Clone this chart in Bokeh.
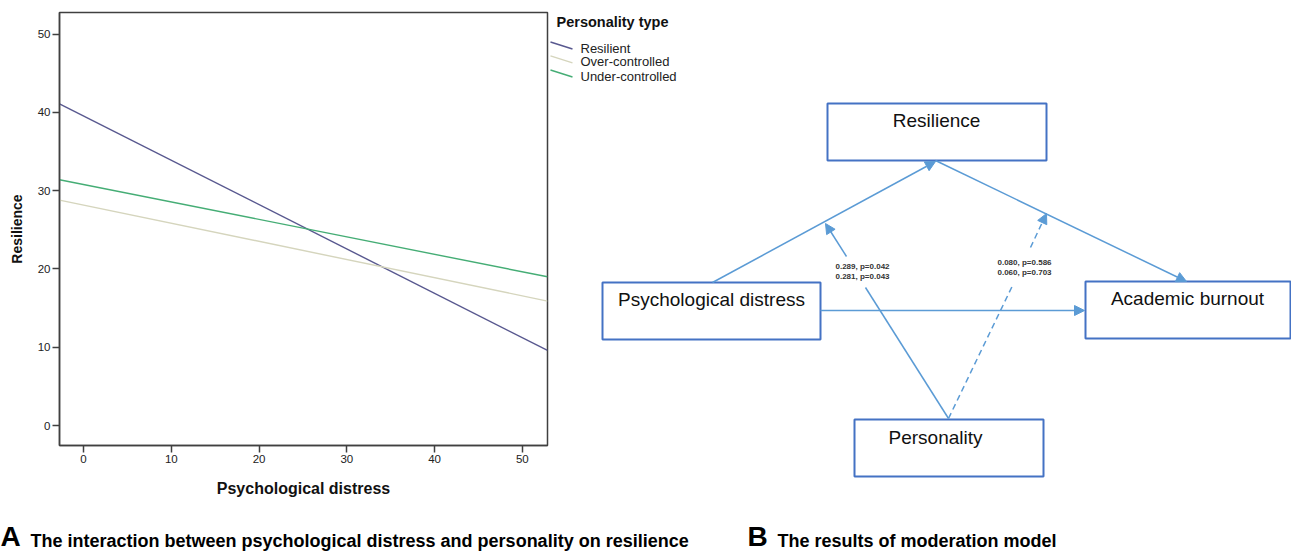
from bokeh.plotting import figure
from bokeh.layouts import row, column
from bokeh.models import Range1d, FixedTicker, Arrow, NormalHead
from bokeh.embed import file_html
from bokeh.resources import INLINE
from bokeh.core.properties import value

# ---------------- Data: panel A (simple slopes) ----------------
distress = [-2.74, 52.87]            # x extent of the plotted lines
resilient = [41.1, 9.6]
over_controlled = [28.8, 15.9]
under_controlled = [31.4, 19.0]
series_names = ["Resilient", "Over-controlled", "Under-controlled"]
x_ticks = [0, 10, 20, 30, 40, 50]
y_ticks = [0, 10, 20, 30, 40, 50]
legend_title = "Personality type"

# ---------------- Data: panel B (moderation model) ----------------
node_names = ["Resilience", "Psychological distress", "Academic burnout", "Personality"]
coef_a = ["0.289, p=0.042", "0.281, p=0.043"]
coef_b = ["0.080, p=0.586", "0.060, p=0.703"]
caption_a = "The interaction between psychological distress and personality on resilience"
caption_b = "The results of moderation model"

# ---------------- Styles ----------------
FONT = "Liberation Sans"
COLORS = ["#58588f", "#d5d5bd", "#45ad75"]
BOX = "#4472c4"
LINE = "#5b9bd5"

# ---------------- Panel A ----------------
p1 = figure(width=549, height=510, title=None,
            x_range=Range1d(-2.74, 52.87), y_range=Range1d(-2.55, 52.76),
            output_backend="svg", toolbar_location=None,
            min_border_left=59, min_border_right=2, min_border_top=12, min_border_bottom=65)
p1.grid.visible = False
p1.outline_line_color = "#404040"
p1.outline_line_width = 1.5
p1.background_fill_color = "white"
for ax, ticks in ((p1.xaxis[0], x_ticks), (p1.yaxis[0], y_ticks)):
    ax.ticker = FixedTicker(ticks=ticks)
    ax.axis_line_color = "#404040"
    ax.axis_line_width = 1.5
    ax.major_tick_line_color = "#404040"
    ax.major_tick_line_width = 1.5
    ax.major_tick_out = 7
    ax.major_tick_in = 0
    ax.minor_tick_line_color = None
    ax.major_label_text_font = FONT
    ax.major_label_text_font_size = "11.5px"
    ax.major_label_text_color = "#222222"
    ax.major_label_standoff = 2
    ax.axis_label_text_font = FONT
    ax.axis_label_text_font_style = "bold"
    ax.axis_label_text_color = "#111111"
p1.xaxis.axis_label = "Psychological distress"
p1.xaxis.axis_label_text_font_size = "16px"
p1.xaxis.axis_label_standoff = 14
p1.yaxis.axis_label = "Resilience"
p1.yaxis.axis_label_text_font_size = "14px"
p1.yaxis.axis_label_standoff = 10

for ys, c in zip([resilient, over_controlled, under_controlled], COLORS):
    p1.line(distress, ys, line_color=c, line_width=1.4)

# ---------------- Panel B (diagram in page-pixel coordinates) ----------------
X0, X1, Y0, Y1 = 549, 1291, 0, 510
p2 = figure(width=X1 - X0, height=Y1 - Y0, title=None,
            x_range=Range1d(X0, X1), y_range=Range1d(Y1, Y0),
            output_backend="svg", toolbar_location=None,
            min_border=0, outline_line_color=None)
p2.axis.visible = False
p2.grid.visible = False

# legend of panel A (drawn beside its frame)
p2.text(x=[556], y=[21], text=[legend_title], text_font=value(FONT), text_font_style="bold",
        text_font_size="14.5px", text_baseline="middle", text_align="left", text_color="#111111")
leg_y = [47.5, 61.3, 75.5]
p2.segment(x0=[550] * 3, y0=[y - 6 for y in leg_y], x1=[572] * 3, y1=[y + 1 for y in leg_y],
           line_color=COLORS, line_width=1.4)
p2.text(x=[580] * 3, y=leg_y, text=series_names, text_font=value(FONT), text_font_size="13px",
        text_baseline="middle", text_align="left", text_color="#222222")

# boxes: left, top, right, bottom ; label position
layout = {
    "Resilience": ((827, 103, 1046, 160), (936, 120)),
    "Psychological distress": ((602, 282, 820, 339), (711, 299)),
    "Academic burnout": ((1085, 281, 1290, 338), (1187, 298)),
    "Personality": ((854, 419, 1043, 476), (935, 437)),
}
bx = [layout[n][0] for n in node_names]
p2.quad(left=[b[0] for b in bx], right=[b[2] for b in bx], top=[b[1] for b in bx],
        bottom=[b[3] for b in bx], fill_color="white", line_color=BOX, line_width=2)
p2.text(x=[layout[n][1][0] for n in node_names], y=[layout[n][1][1] for n in node_names],
        text=node_names, text_font=value(FONT), text_font_size="19px",
        text_align="center", text_baseline="middle", text_color="#111111")

# arrows
def arrow(xs, ys, xe, ye, dash="solid"):
    p2.add_layout(Arrow(end=NormalHead(size=10, fill_color=LINE, line_color=LINE),
                        x_start=xs, y_start=ys, x_end=xe, y_end=ye,
                        line_color=LINE, line_width=1.5, line_dash=dash))

arrow(712, 282, 935, 161)
arrow(935, 160, 1186, 281)
arrow(820, 310, 1084, 310)
# moderation paths (with gap for coefficient labels)
p2.segment(x0=[948], y0=[418], x1=[865], y1=[287], line_color=LINE, line_width=1.5)
arrow(846, 256, 825, 223)
p2.segment(x0=[948], y0=[418], x1=[1013], y1=[283], line_color=LINE, line_width=1.5, line_dash="6 4")
arrow(1030, 247, 1046, 213, dash="6 4")

p2.text(x=[835, 835], y=[266, 275.5], text=coef_a, text_font=value(FONT), text_font_size="8px",
        text_font_style="bold", text_baseline="middle", text_align="left", text_color="#333333")
p2.text(x=[997, 997], y=[262, 271.5], text=coef_b, text_font=value(FONT), text_font_size="8px",
        text_font_style="bold", text_baseline="middle", text_align="left", text_color="#333333")

# ---------------- Captions ----------------
p3 = figure(width=1291, height=43, title=None,
            x_range=Range1d(0, 1291), y_range=Range1d(553, 510),
            output_backend="svg", toolbar_location=None,
            min_border=0, outline_line_color=None)
p3.axis.visible = False
p3.grid.visible = False
p3.text(x=[0, 747], y=[536, 536], text=["A", "B"], text_font=value(FONT), text_font_style="bold",
        text_font_size="28px", text_baseline="middle", text_align="left", text_color="#000000")
p3.text(x=[30, 777], y=[540, 540], text=[caption_a, caption_b], text_font=value(FONT),
        text_font_style="bold", text_font_size="18px", text_baseline="middle",
        text_align="left", text_color="#000000")

layout_all = column(row(p1, column(p2)), p3)
open("out.html", "w").write(file_html(layout_all, INLINE))
